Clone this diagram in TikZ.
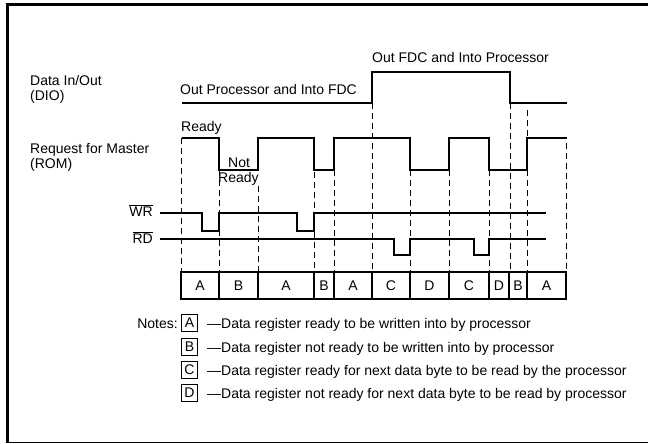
\documentclass[tikz,border=0pt]{standalone}
\usepackage{fontspec}
\setmainfont{Liberation Sans}
\begin{document}
\begin{tikzpicture}[x=1pt,y=-1pt,
  font=\fontsize{14}{16}\selectfont,
  sig/.style={line width=1.4pt, line join=miter},
  guide/.style={line width=0.9pt, dash pattern=on 6pt off 4pt},
  lbl/.style={anchor=base west, inner sep=0pt},
  rlbl/.style={anchor=base east, inner sep=0pt},
  frame/.style={line width=3pt},
  notebox/.style={draw, line width=1pt, minimum width=16pt, minimum height=17pt, inner sep=0pt, anchor=west}]
\useasboundingbox (0,0) rectangle (648,444);
% frame
\draw[frame] (5.5,5) -- (648,5);
\draw[frame] (7,3.5) -- (7,443);
\draw[line width=1pt] (7,442) -- (648,442);

% labels
\node[lbl] (dio1) at (30,85) {Data In/Out};
\node[lbl] (dio2) at (30,100) {(DIO)};
\node[lbl] (rom1) at (30,153) {Request for Master};
\node[lbl] (rom2) at (30,168) {(ROM)};
\node[lbl] (opif) at (180,95) {Out Processor and Into FDC};
\node[lbl] (ofip) at (372,63) {Out FDC and Into Processor};
\node[lbl] (rdy) at (181,131) {Ready};
\node[lbl] (nrdy1) at (228,167) {Not};
\node[lbl] (nrdy2) at (218,182) {Ready};
\node[rlbl] (wr) at (153,216) {$\overline{\mbox{WR}}$};
\node[rlbl] (rd) at (153,243) {$\overline{\mbox{RD}}$};

% DIO
\draw[sig] (182,103) -- (372,103) -- (372,72) -- (510,72) -- (510,103) -- (567,103);
% ROM
\draw[sig] (182,138) -- (219,138) -- (219,170) -- (258,170) -- (258,138) -- (314,138) -- (314,170)
  -- (334,170) -- (334,138) -- (410,138) -- (410,170) -- (449,170) -- (449,138) -- (489,138)
  -- (489,170) -- (527,170) -- (527,138) -- (567,138);
% WR
\draw[sig] (160,213) -- (202,213) -- (202,231) -- (219,231) -- (219,213) -- (297,213) -- (297,231)
  -- (314,231) -- (314,213) -- (546,213);
% RD
\draw[sig] (160,239) -- (394,239) -- (394,255) -- (410,255) -- (410,239) -- (474,239) -- (474,255)
  -- (489,255) -- (489,239) -- (546,239);

% guides
\foreach \x/\y in {181/138, 219/170, 258/186, 314/172, 334/170, 372/103, 410/170, 449/170, 489/170, 510/103, 527/110, 566/143}
  \draw[guide] (\x,\y) -- (\x,272);

% cell row
\draw[line width=1.4pt] (181,272) rectangle (566,299);
\foreach \x in {219,258,314,334,372,410,449,489,509,527}
  \draw[line width=1.2pt] (\x,272) -- (\x,299);
\foreach \a/\b/\t [count=\i] in {181/219/A, 219/258/B, 258/314/A, 314/334/B, 334/372/A, 372/410/C, 410/449/D, 449/489/C, 489/509/D, 509/527/B, 527/566/A}
  \node[inner sep=0pt] (cell\i) at ({(\a+\b)/2},286) {\t};

% notes
\node[rlbl] (notes) at (178,328) {Notes:};
\foreach \y/\t/\s in {328/A/ready to be written into by processor,
                     352/B/not ready to be written into by processor,
                     375/C/ready for next data byte to be read by the processor,
                     398/D/not ready for next data byte to be read by processor}{
  \node[notebox] (nb\t) at (181,\y-5) {\t};
  \node[lbl] (nt\t) at (207,\y) {---Data register \s};
}
\end{tikzpicture}
\end{document}
